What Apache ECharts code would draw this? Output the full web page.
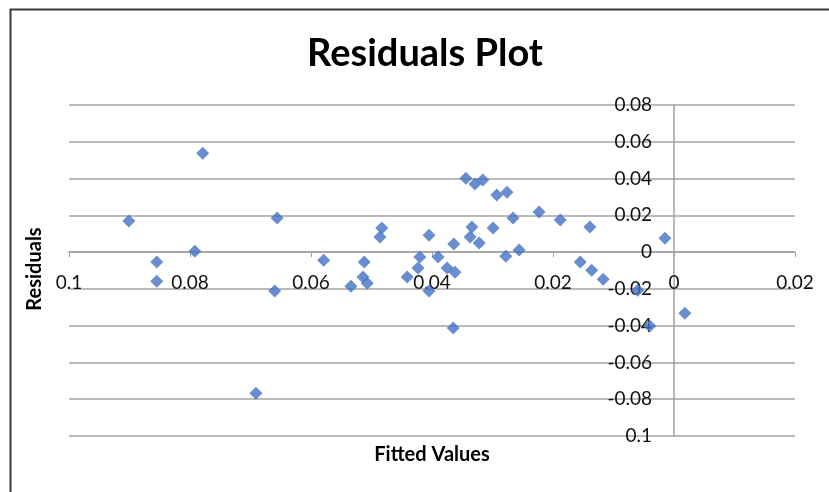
<!DOCTYPE html>
<html>
<head>
<meta charset="utf-8">
<script src="https://cdn.jsdelivr.net/npm/echarts@6/dist/echarts.min.js"></script>
<style>
html,body{margin:0;padding:0;background:#fff;}
#chart{width:829px;height:492px;}
</style>
</head>
<body>
<div id="chart"></div>
<script>
// Fitted values (x) and residuals (y)
const fittedValues = [
  -0.0901, -0.0855, -0.0855, -0.0792, -0.0779, -0.0691, -0.0656, -0.0660,
  -0.0579, -0.0534, -0.0512, -0.0514, -0.0507, -0.0483, -0.0486, -0.0441,
  -0.0423, -0.0420, -0.0405, -0.0405, -0.0390, -0.0375, -0.0362, -0.0364,
  -0.0365, -0.0344, -0.0329, -0.0316, -0.0334, -0.0337, -0.0322, -0.0299,
  -0.0293, -0.0276, -0.0266, -0.0278, -0.0256, -0.0223, -0.0188, -0.0155,
  -0.0139, -0.0136, -0.0117, -0.0060, -0.0040, -0.0015, 0.0018
];
const residuals = [
  0.0169, -0.0054, -0.0158, 0.0005, 0.0538, -0.0767, 0.0185, -0.0212,
  -0.0044, -0.0185, -0.0054, -0.0136, -0.0169, 0.0131, 0.0082, -0.0136,
  -0.0087, -0.0027, 0.0092, -0.0212, -0.0027, -0.0087, -0.0109, 0.0044,
  -0.0413, 0.0402, 0.0370, 0.0392, 0.0136, 0.0082, 0.0049, 0.0131,
  0.0310, 0.0326, 0.0185, -0.0022, 0.0011, 0.0218, 0.0174, -0.0054,
  0.0136, -0.0098, -0.0147, -0.0207, -0.0402, 0.0076, -0.0332
];
// Tick labels as they appear in the reference
const xTickLabels = ['0.1', '0.08', '0.06', '0.04', '0.02', '0', '0.02'];
const yTickLabels = ['0.1', '-0.08', '-0.06', '-0.04', '-0.02', '0', '0.02', '0.04', '0.06', '0.08'];
const titleText = 'Residuals Plot';
const xTitle = 'Fitted Values';
const yTitle = 'Residuals';

const xMin = -0.1, xMax = 0.02, xStep = 0.02;
const yMin = -0.1, yMax = 0.08, yStep = 0.02;

const points = fittedValues.map((x, i) => [x, residuals[i]]);
const font = 'Lato, "Open Sans", sans-serif';
const gridColor = '#a3a3a3';

// grid box (pixels)
const gLeft = 69, gRight = 34, gTop = 105, gBottom = 56;
const W = 829, H = 492;
const gW = W - gLeft - gRight, gH = H - gTop - gBottom;
// move the axes so that they cross at zero
const xAxisOffset = -gH * (0 - yMin) / (yMax - yMin);
const yAxisOffset = -gW * (0 - xMin) / (xMax - xMin);

const chart = echarts.init(document.getElementById('chart'), null, {renderer: 'canvas'});
chart.setOption({
  animation: false,
  backgroundColor: '#ffffff',
  grid: {left: gLeft, right: gRight, top: gTop, bottom: gBottom, containLabel: false},
  xAxis: {
    type: 'value', position: 'bottom', offset: xAxisOffset,
    min: xMin, max: xMax, interval: xStep,
    axisLine: {show: true, onZero: false, lineStyle: {color: gridColor, width: 1.5}},
    axisTick: {show: true, length: 5, lineStyle: {color: gridColor}},
    splitLine: {show: false},
    axisLabel: {
      showMinLabel: true, showMaxLabel: true,
      margin: 21,
      fontFamily: font, fontSize: 19, color: '#111',
      formatter: function (v) { return xTickLabels[Math.round((v - xMin) / xStep)]; }
    }
  },
  yAxis: {
    type: 'value', position: 'left', offset: yAxisOffset,
    min: yMin, max: yMax, interval: yStep,
    axisLine: {show: true, onZero: false, lineStyle: {color: gridColor, width: 1.5}},
    axisTick: {show: false},
    splitLine: {show: true, lineStyle: {color: gridColor, width: 1.5}},
    axisLabel: {
      showMinLabel: true, showMaxLabel: true,
      margin: 22,
      fontFamily: font, fontSize: 19, color: '#111',
      formatter: function (v) { return yTickLabels[Math.round((v - yMin) / yStep)]; }
    }
  },
  graphic: [
    {type: 'rect', left: 8, top: 7, shape: {width: 900, height: 600},
     style: {fill: 'none', stroke: '#3a3a3a', lineWidth: 2}, silent: true, z: 100},
    {type: 'text', x: 425, y: 54,
     style: {text: titleText, font: 'bold 38px ' + font, fill: '#000', align: 'center', verticalAlign: 'middle'}},
    {type: 'text', x: 432, y: 455,
     style: {text: xTitle, font: 'bold 20px ' + font, fill: '#000', align: 'center', verticalAlign: 'middle'}},
    {type: 'text', x: 35, y: 269, rotation: Math.PI / 2,
     style: {text: yTitle, font: 'bold 20px ' + font, fill: '#000', align: 'center', verticalAlign: 'middle'}}
  ],
  series: [{
    type: 'scatter',
    data: points,
    symbol: 'diamond',
    symbolSize: 13,
    itemStyle: {color: '#4472C4'}
  }]
});
</script>
</body>
</html>
